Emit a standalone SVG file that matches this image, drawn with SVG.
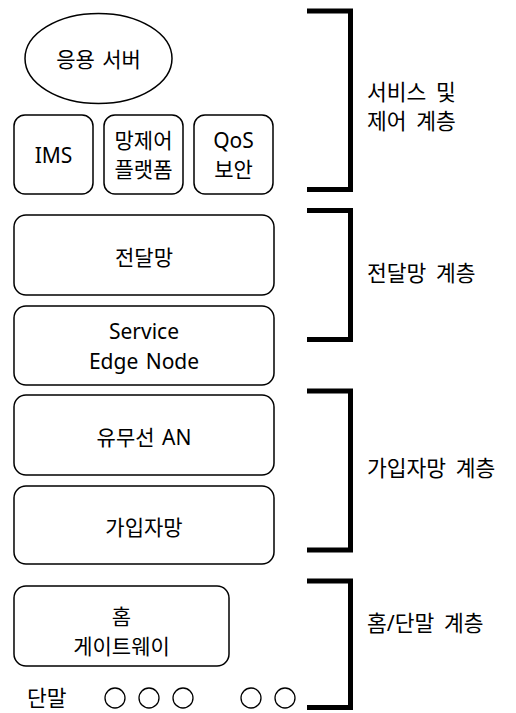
<svg xmlns="http://www.w3.org/2000/svg" width="516" height="713" viewBox="0 0 516 713">
  <style>
    .box { fill: #ffffff; stroke: #000000; stroke-width: 1.5; }
    .t { font-family: "Noto Sans", "Noto Sans CJK KR", sans-serif; font-size: 21px; word-spacing: 2px; fill: #000000; text-anchor: middle; dominant-baseline: central; }
    .lbl { font-family: "Noto Sans", "Noto Sans CJK KR", sans-serif; font-size: 21.5px; word-spacing: 4px; fill: #000000; dominant-baseline: central; }
    .bracket { fill: none; stroke: #000000; stroke-width: 5; stroke-linejoin: miter; }
    .dev { fill: #ffffff; stroke: #000000; stroke-width: 1.3; }
  </style>

  <rect width="516" height="713" fill="#ffffff"/>

  <!-- service and control layer -->
  <g id="app-server">
    <ellipse class="box" cx="98.5" cy="58.5" rx="73.5" ry="45"/>
    <text class="t" x="98.5" y="59">응용 서버</text>
  </g>
  <g id="ims">
    <rect class="box" x="14" y="115" width="79" height="79" rx="11"/>
    <text class="t" x="53.5" y="155">IMS</text>
  </g>
  <g id="control-platform">
    <rect class="box" x="104" y="115" width="79" height="79" rx="11"/>
    <text class="t" x="143.5" y="139.5">망제어</text>
    <text class="t" x="143.5" y="169">플랫폼</text>
  </g>
  <g id="qos">
    <rect class="box" x="194" y="115" width="79" height="79" rx="11"/>
    <text class="t" x="233.5" y="139.5">QoS</text>
    <text class="t" x="233.5" y="169">보안</text>
  </g>

  <!-- transport layer -->
  <g id="transport">
    <rect class="box" x="14" y="215" width="260" height="80" rx="12"/>
    <text class="t" x="144" y="257">전달망</text>
  </g>
  <g id="edge-node">
    <rect class="box" x="14" y="306" width="260" height="79" rx="12"/>
    <text class="t" x="144" y="331">Service</text>
    <text class="t" x="144" y="360.5">Edge Node</text>
  </g>

  <!-- subscriber layer -->
  <g id="access-network">
    <rect class="box" x="14" y="395" width="260" height="80" rx="12"/>
    <text class="t" x="144" y="437">유무선 AN</text>
  </g>
  <g id="subscriber-network">
    <rect class="box" x="14" y="486" width="260" height="78" rx="12"/>
    <text class="t" x="144" y="527">가입자망</text>
  </g>

  <!-- home / terminal layer -->
  <g id="home-gateway">
    <rect class="box" x="14" y="586" width="215" height="80" rx="12"/>
    <text class="t" x="121.5" y="616">홈</text>
    <text class="t" x="121.5" y="645.5">게이트웨이</text>
  </g>
  <g id="terminals">
    <text class="lbl" x="27" y="697">단말</text>
    <circle class="dev" cx="115" cy="698" r="10"/>
    <circle class="dev" cx="149" cy="698" r="10"/>
    <circle class="dev" cx="183" cy="698" r="10"/>
    <circle class="dev" cx="251" cy="698" r="10"/>
    <circle class="dev" cx="285" cy="698" r="10"/>
  </g>

  <!-- layer brackets -->
  <g id="brackets">
    <path class="bracket" d="M307,11 H350.5 V189.5 H307"/>
    <path class="bracket" d="M307,210.5 H350.5 V339.5 H307"/>
    <path class="bracket" d="M307,391 H350.5 V550 H307"/>
    <path class="bracket" d="M307,581 H350.5 V707.5 H307"/>
  </g>

  <!-- layer names -->
  <g id="layer-labels">
    <text class="lbl" x="367" y="91">서비스 및</text>
    <text class="lbl" x="367" y="120">제어 계층</text>
    <text class="lbl" x="367" y="272">전달망 계층</text>
    <text class="lbl" x="367" y="467">가입자망 계층</text>
    <text class="lbl" x="367" y="622">홈/단말 계층</text>
  </g>
</svg>
